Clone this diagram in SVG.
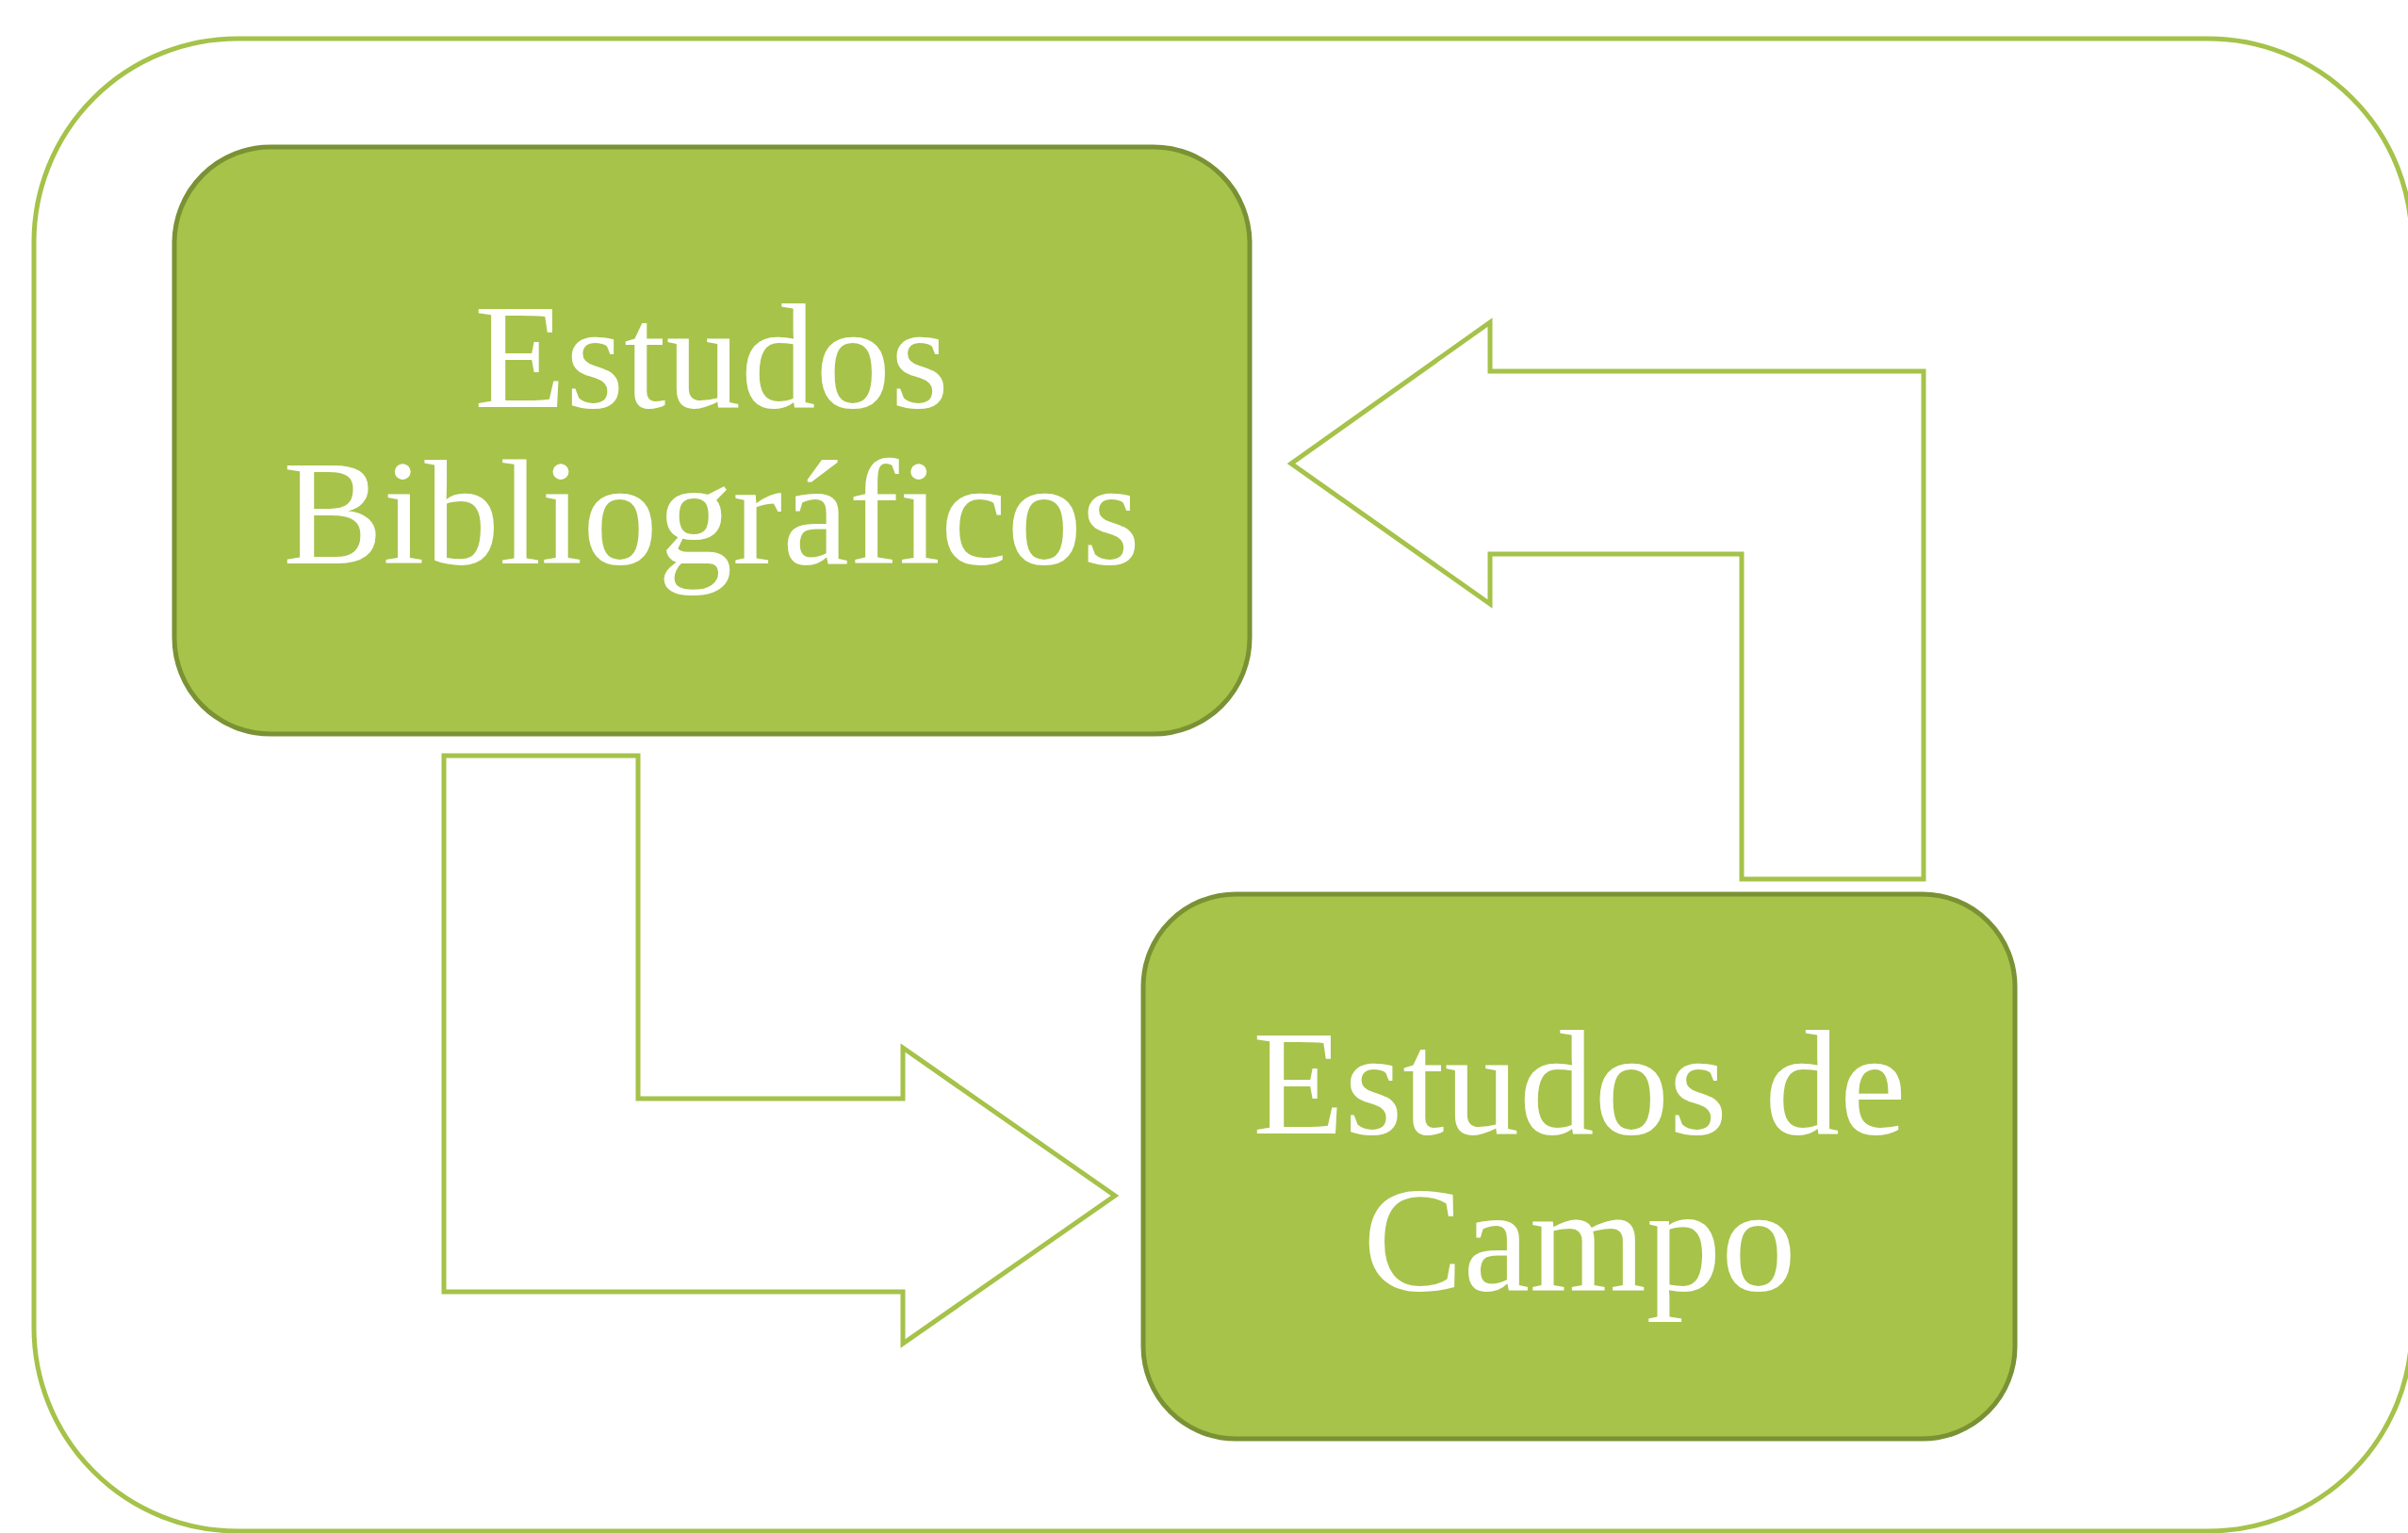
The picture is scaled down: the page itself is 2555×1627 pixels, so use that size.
<svg xmlns="http://www.w3.org/2000/svg" width="2555" height="1627" viewBox="0 0 2555 1627">
<style>
.frame{fill:#ffffff;stroke:#a5c249;stroke-width:5}
.box{fill:#a7c34a;stroke:#7a9234;stroke-width:5}
.arrow{fill:#ffffff;stroke:#a5c249;stroke-width:5}
.lbl{font-family:"Liberation Serif","Times New Roman",serif;font-size:159px;fill:#ffffff;text-anchor:middle}
</style>
<rect x="0" y="0" width="2555" height="1627" fill="#ffffff"/>
<rect class="frame" x="36" y="41" width="2523" height="1584" rx="216" ry="216"/>
<g id="connectors">
<polygon id="arrow-back" class="arrow" points="1370,492 1581,342 1581,394 2041,394 2041,933 1848,933 1848,588 1581,588 1581,641"/>
<polygon id="arrow-forward" class="arrow" points="471,802 677,802 677,1166 958,1166 958,1112 1183,1269 958,1426 958,1371 471,1371"/>
</g>
<g id="node-bibliograficos">
<rect class="box" x="185" y="156" width="1141" height="623" rx="102" ry="102"/>
<text class="lbl" x="755" y="432">Estudos</text>
<text class="lbl" x="755" y="598">Bibliográficos</text>
</g>
<g id="node-campo">
<rect class="box" x="1213" y="949" width="925" height="578" rx="98" ry="98"/>
<text class="lbl" x="1676" y="1203">Estudos de</text>
<text class="lbl" x="1676" y="1369">Campo</text>
</g>
</svg>
